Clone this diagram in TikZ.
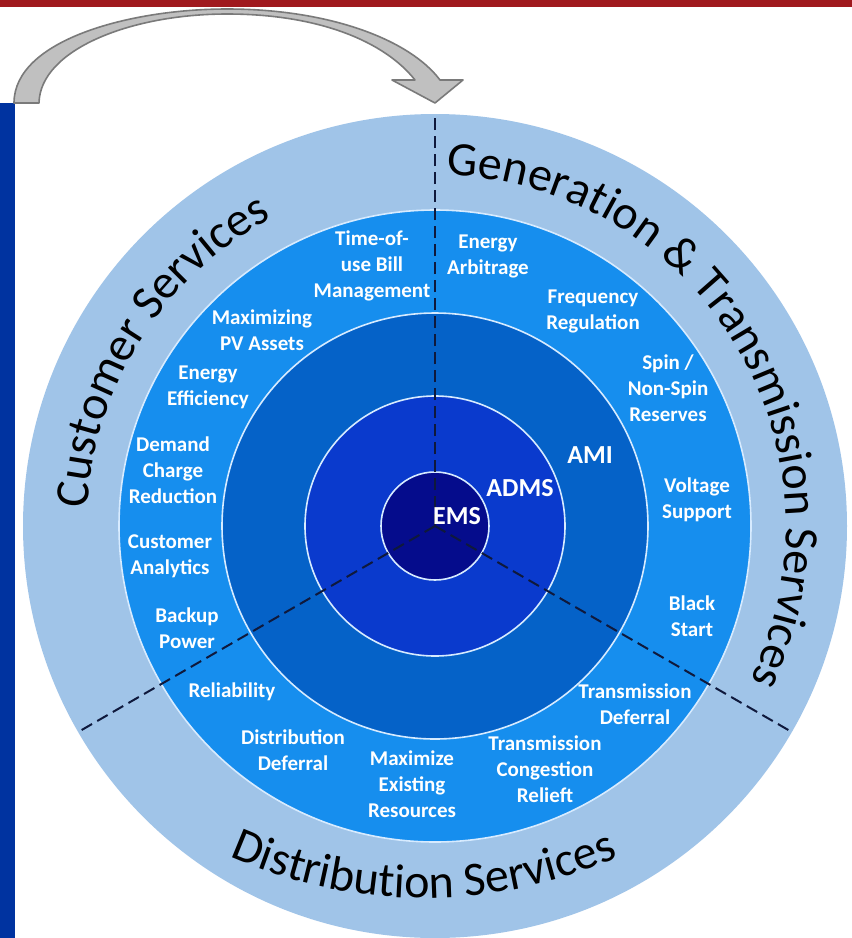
\documentclass[tikz,border=0pt]{standalone}
\usepackage{fontspec}
\setmainfont{Carlito}
\usetikzlibrary{decorations.text}
\newcommand\bighead{\fontsize{48}{48}\selectfont}
\newcommand\ampsym{\&}
\definecolor{pale}{RGB}{160,196,232}
\definecolor{ringlb}{RGB}{22,142,238}
\definecolor{amic}{RGB}{5,98,200}
\definecolor{admsc}{RGB}{10,58,205}
\definecolor{emsc}{RGB}{5,12,140}
\definecolor{navyline}{RGB}{15,25,60}
\definecolor{barblue}{RGB}{0,51,160}
\definecolor{barred}{RGB}{160,25,30}
\definecolor{arrowfill}{RGB}{192,192,192}
\definecolor{arrowedge}{RGB}{122,122,122}
\definecolor{ringedge}{RGB}{215,235,255}
\begin{document}
\begin{tikzpicture}[x=1pt,y=1pt,
  lbl/.style={text=white, font=\fontsize{21}{26}\selectfont\bfseries, align=center, inner sep=0pt},
  core/.style={text=white, font=\fontsize{26}{30}\selectfont\bfseries, inner sep=0pt},
  divider/.style={draw=navyline, line width=2pt, dash pattern=on 12pt off 6pt},
  ring/.style={draw=ringedge, line width=1.6pt}]
\useasboundingbox (0,0) rectangle (852,-938);
\fill[white] (0,0) rectangle (852,-938);
\fill[barred] (0,0) rectangle (852,-7);
\fill[barblue] (0,-103) rectangle (15,-938);
% curved arrow
\filldraw[fill=arrowfill, draw=arrowedge, line width=1.6pt, line join=round]
  (14,-103) .. controls (14,-40) and (130,-9) .. (227,-9)
  .. controls (330,-9) and (410,-40) .. (440,-80)
  -- (463,-80) -- (435,-103) -- (392,-80) -- (415,-80)
  .. controls (385,-42) and (320,-14) .. (227,-14)
  .. controls (130,-14) and (40,-50) .. (39,-103) -- cycle;
% rings
\coordinate (C) at (435,-526);
\fill[pale] (C) circle[radius=412];
\filldraw[fill=ringlb, ring] (C) circle[radius=316];
\filldraw[fill=amic, ring] (C) circle[radius=213];
\filldraw[fill=admsc, ring] (C) circle[radius=130];
\filldraw[fill=emsc, ring] (C) circle[radius=54];
% dividers
\coordinate (d1) at ([shift={(90:410)}]C);
\coordinate (d2) at ([shift={(210:408)}]C);
\coordinate (d3) at ([shift={(330:408)}]C);
\draw[divider] (C) -- (d1);
\draw[divider] (C) -- (d2);
\draw[divider] (C) -- (d3);
% labels
\node[lbl] (tou) at (372,-266) {Time-of-\\use Bill\\Management};
\node[lbl] (arb) at (488,-256) {Energy\\Arbitrage};
\node[lbl] (freq) at (593,-311) {Frequency\\Regulation};
\node[lbl] (spin) at (668,-388) {Spin /\\Non-Spin\\Reserves};
\node[lbl] (volt) at (697,-500) {Voltage\\Support};
\node[lbl] (black) at (692,-616) {Black\\Start};
\node[lbl] (tdef) at (635,-704) {Transmission\\Deferral};
\node[lbl] (tcong) at (545,-769) {Transmission\\Congestion\\Relieft};
\node[lbl] (maxres) at (412,-784) {Maximize\\Existing\\Resources};
\node[lbl] (ddef) at (293,-750) {Distribution\\Deferral};
\node[lbl] (rel) at (232,-692) {Reliability};
\node[lbl] (backup) at (187,-628) {Backup\\Power};
\node[lbl] (analytics) at (170,-556) {Customer\\Analytics};
\node[lbl] (demand) at (173,-470) {Demand\\Charge\\Reduction};
\node[lbl] (eff) at (208,-387) {Energy\\Efficiency};
\node[lbl] (pv) at (262,-330) {Maximizing\\PV Assets};
\node[core] (amil) at (590,-455) {AMI};
\node[core] (admsl) at (520,-488) {ADMS};
\node[core] (emsl) at (457,-516) {EMS};
% curved headings
\path[decorate, decoration={text along path, text align=center, text={|\bighead|Customer Services}}]
  ([shift={(192.5:348)}]C) arc[start angle=192.5, end angle=102.5, radius=348];
\path[decorate, decoration={text along path, text align=center, text={|\bighead|Generation {\ampsym} Transmission Services}}]
  ([shift={(107:351)}]C) arc[start angle=107, end angle=-45, radius=351];
\coordinate (D) at (424,-420);
\path[decorate, decoration={text along path, text align=center, text={|\bighead|Distribution Services}}]
  ([shift={(240:478)}]D) arc[start angle=240, end angle=300, radius=478];
\end{tikzpicture}
\end{document}
